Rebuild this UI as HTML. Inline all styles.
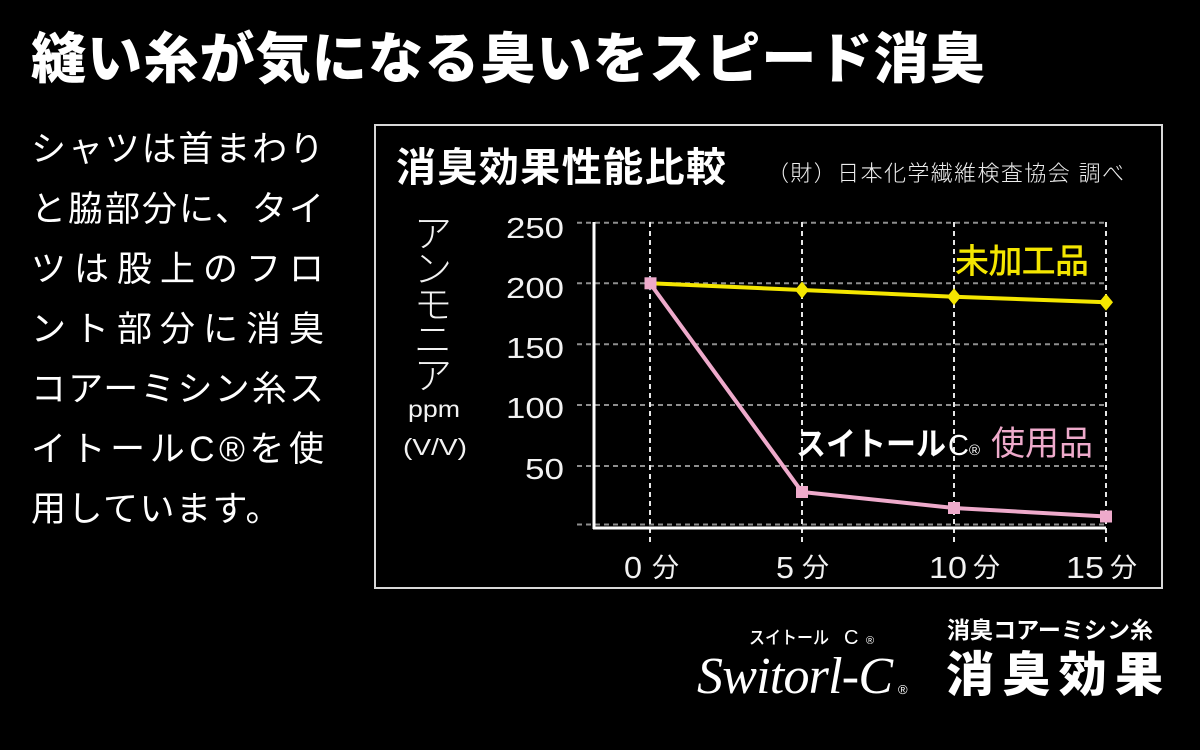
<!DOCTYPE html>
<html><head><meta charset="utf-8">
<style>
html,body{margin:0;padding:0;background:#000;}
svg{display:block;}
.jp{font-family:"Liberation Sans","Noto Sans CJK JP",sans-serif;}
.num{font-family:"Liberation Sans",sans-serif;}
.scr{font-family:"Liberation Serif",serif;font-style:italic;}
</style></head>
<body>
<svg width="1200" height="750" viewBox="0 0 1200 750" xmlns="http://www.w3.org/2000/svg">
<rect width="1200" height="750" fill="#000"/>

<!-- Heading -->
<text class="jp" x="31" y="78" font-size="55" font-weight="900" fill="#fff" textLength="954" lengthAdjust="spacing">縫い糸が気になる臭いをスピード消臭</text>

<!-- Left paragraph -->
<g class="jp" font-size="35" fill="#fff">
<text x="31" y="161" textLength="293" lengthAdjust="spacing">シャツは首まわり</text>
<text x="31" y="221" textLength="293" lengthAdjust="spacing">と脇部分に、タイ</text>
<text x="31" y="281" textLength="293" lengthAdjust="spacing">ツは股上のフロ</text>
<text x="31" y="341" textLength="293" lengthAdjust="spacing">ント部分に消臭</text>
<text x="31" y="401" textLength="293" lengthAdjust="spacing">コアーミシン糸ス</text>
<text x="31" y="461" textLength="293" lengthAdjust="spacing">イトールC®を使</text>
<text x="31" y="521" letter-spacing="1.5">用しています。</text>
</g>

<!-- Chart box -->
<rect x="375" y="125" width="787" height="463" fill="none" stroke="#d8d8d8" stroke-width="2"/>

<!-- Chart title -->
<text class="jp" x="396" y="181" font-size="40" font-weight="700" fill="#fff" textLength="330" lengthAdjust="spacing">消臭効果性能比較</text>
<text class="jp" x="767" y="181" font-size="22" fill="#eee" font-weight="300" textLength="357" lengthAdjust="spacing">（財）日本化学繊維検査協会 調べ</text>

<!-- horizontal gridlines -->
<g stroke="#8e8e8e" stroke-width="2" stroke-dasharray="5 4">
<line x1="577" y1="222.7" x2="1107" y2="222.7"/>
<line x1="577" y1="283.3" x2="1107" y2="283.3"/>
<line x1="577" y1="344.3" x2="1107" y2="344.3"/>
<line x1="577" y1="405" x2="1107" y2="405"/>
<line x1="577" y1="466" x2="1107" y2="466"/>
<line x1="577" y1="524.5" x2="1107" y2="524.5"/>
</g>
<!-- vertical gridlines -->
<g stroke="#e6e6e6" stroke-width="2" stroke-dasharray="5 4">
<line x1="650" y1="222" x2="650" y2="546"/>
<line x1="802" y1="222" x2="802" y2="546"/>
<line x1="954" y1="222" x2="954" y2="546"/>
<line x1="1106" y1="222" x2="1106" y2="546"/>
</g>
<!-- axes -->
<line x1="594" y1="222" x2="594" y2="529" stroke="#fff" stroke-width="3"/>
<line x1="593" y1="528" x2="1106" y2="528" stroke="#fff" stroke-width="3"/>

<!-- y tick labels -->
<g class="num" font-size="29" fill="#f2f2f2" text-anchor="end">
<text x="564" y="238" textLength="58" lengthAdjust="spacingAndGlyphs">250</text>
<text x="564" y="298" textLength="58" lengthAdjust="spacingAndGlyphs">200</text>
<text x="564" y="358" textLength="58" lengthAdjust="spacingAndGlyphs">150</text>
<text x="564" y="418" textLength="58" lengthAdjust="spacingAndGlyphs">100</text>
<text x="564" y="479" textLength="39" lengthAdjust="spacingAndGlyphs">50</text>
</g>

<!-- y axis title -->
<g class="jp" font-size="38" fill="#f2f2f2" font-weight="300" text-anchor="middle">
<text x="433" y="247">ア</text>
<text x="433" y="282">ン</text>
<text x="433" y="318">モ</text>
<text x="433" y="353">ニ</text>
<text x="433" y="389">ア</text>
</g>
<text class="num" x="408" y="417" font-size="23" fill="#f2f2f2" textLength="52" lengthAdjust="spacingAndGlyphs">ppm</text>
<text class="num" x="403" y="455" font-size="23" fill="#f2f2f2" textLength="64" lengthAdjust="spacingAndGlyphs">(V/V)</text>

<!-- x labels -->
<g fill="#f2f2f2">
<text class="num" x="624" y="578" font-size="31" textLength="18" lengthAdjust="spacingAndGlyphs">0</text>
<text class="jp" x="652" y="577" font-size="27">分</text>
<text class="num" x="776" y="578" font-size="31" textLength="18" lengthAdjust="spacingAndGlyphs">5</text>
<text class="jp" x="802" y="577" font-size="27">分</text>
<text class="num" x="929" y="578" font-size="31" textLength="38" lengthAdjust="spacingAndGlyphs">10</text>
<text class="jp" x="973" y="577" font-size="27">分</text>
<text class="num" x="1066" y="578" font-size="31" textLength="38" lengthAdjust="spacingAndGlyphs">15</text>
<text class="jp" x="1110" y="577" font-size="27">分</text>
</g>

<!-- yellow series -->
<polyline points="650,283.3 802,290 954,296.7 1106,302.3" fill="none" stroke="#f4e600" stroke-width="4"/>
<polygon points="650,276 656,283.3 650,290.6 644,283.3" fill="#8fa6c4"/>
<polygon points="802,281.5 809,290 802,298.5 795,290" fill="#f4e600"/>
<polygon points="954,288.2 961,296.7 954,305.2 947,296.7" fill="#f4e600"/>
<polygon points="1106,293.8 1113,302.3 1106,310.8 1099,302.3" fill="#f4e600"/>

<!-- pink series -->
<polyline points="650,283.3 802,492 954,508 1106,516.5" fill="none" stroke="#eeaacb" stroke-width="4"/>
<rect x="644.5" y="277.3" width="12" height="12" fill="#eeaacb"/>
<rect x="796" y="486" width="12" height="12" fill="#eeaacb"/>
<rect x="948" y="502" width="12" height="12" fill="#eeaacb"/>
<rect x="1100" y="510.5" width="12" height="12" fill="#eeaacb"/>

<!-- series labels -->
<text class="jp" x="955" y="273" font-size="34" font-weight="500" fill="#f4e600" textLength="134" lengthAdjust="spacing">未加工品</text>
<text class="jp" x="796" y="455" font-size="32" font-weight="700" fill="#fff" textLength="150" lengthAdjust="spacingAndGlyphs">スイトール</text>
<text class="num" x="948" y="455" font-size="29" fill="#fff">C</text>
<text class="num" x="969" y="455" font-size="15" fill="#fff">®</text>
<text class="jp" x="991" y="455" font-size="34" fill="#eeaacb" textLength="102" lengthAdjust="spacing">使用品</text>

<!-- bottom right logo -->
<text class="jp" x="749" y="644" font-size="18" font-weight="500" fill="#fff" textLength="80" lengthAdjust="spacingAndGlyphs">スイトール</text>
<text class="num" x="844" y="644" font-size="20" fill="#fff">C</text>
<text class="num" x="866" y="644" font-size="11" fill="#fff">®</text>
<text class="scr" x="697" y="693" font-size="52" fill="#fff" textLength="196" lengthAdjust="spacing">Switorl-C</text>
<text class="num" x="898" y="694" font-size="13" fill="#fff">®</text>

<text class="jp" x="947" y="638" font-size="23" font-weight="700" fill="#fff" textLength="206" lengthAdjust="spacing">消臭コアーミシン糸</text>
<text class="jp" x="946" y="691" font-size="48" font-weight="900" fill="#fff" textLength="217" lengthAdjust="spacing">消臭効果</text>
</svg>
</body></html>
